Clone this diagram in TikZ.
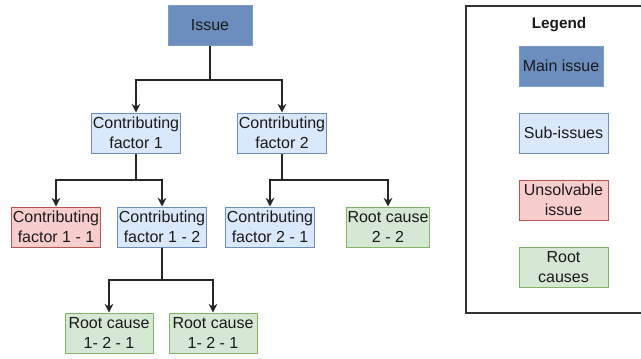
\documentclass[tikz,border=0pt]{standalone}
\usepackage{fontspec}
\setmainfont{Liberation Sans}
\usepackage{tikz}
\usetikzlibrary{arrows.meta, positioning}
\definecolor{rcMainFill}{HTML}{6C8EBF}
\definecolor{rcMainLine}{HTML}{7C9CCB}
\definecolor{rcSubFill}{HTML}{DAE8FC}
\definecolor{rcSubLine}{HTML}{6C8EBF}
\definecolor{rcBadFill}{HTML}{F8CECC}
\definecolor{rcBadLine}{HTML}{B85450}
\definecolor{rcRootFill}{HTML}{D5E8D4}
\definecolor{rcRootLine}{HTML}{82B366}
\definecolor{rcText}{HTML}{1A1A1A}

\begin{document}
\begin{tikzpicture}[
  x=0.75pt, y=-0.75pt,
  box/.style={draw=#1Line, fill=#1Fill, line width=0.75pt, minimum width=66pt,
              minimum height=30pt, align=center, inner sep=1pt, text=rcText,
              font=\fontsize{12}{15}\selectfont},
  link/.style={draw=black!85, line width=1pt, -{Stealth[length=6.5pt,width=6.5pt]}},
]
  \useasboundingbox (0,0) rectangle (641,358);

  % tree
  \node[box=rcMain, minimum width=63pt] (issue) at (210,25.5) {Issue};
  \node[box=rcSub] (cf1) at (136,133) {Contributing\\factor 1};
  \node[box=rcSub] (cf2) at (282,133) {Contributing\\factor 2};
  \node[box=rcBad] (cf11) at (56,227) {Contributing\\factor 1 - 1};
  \node[box=rcSub] (cf12) at (162,227) {Contributing\\factor 1 - 2};
  \node[box=rcSub] (cf21) at (270,227) {Contributing\\factor 2 - 1};
  \node[box=rcRoot, minimum width=62.5pt] (rc22) at (388,227) {Root cause\\2 - 2};
  \node[box=rcRoot] (rc121) at (109,333) {Root cause\\1- 2 - 1};
  \node[box=rcRoot] (rc122) at (213,333) {Root cause\\1- 2 - 1};

  \coordinate (j0) at (210,80);
  \coordinate (j1) at (136,180);
  \coordinate (j2) at (282,180);
  \coordinate (j3) at (162,280);

  \draw[link] (issue.south) -- (j0) -| (cf1.north);
  \draw[link] (j0) -| (cf2.north);
  \draw[link] (cf1.south) -- (j1) -| (cf11.north);
  \draw[link] (j1) -| (cf12.north);
  \draw[link] (cf2.south) -- (j2) -| (cf21.north);
  \draw[link] (j2) -| (rc22.north);
  \draw[link] (cf12.south) -- (j3) -| (rc121.north);
  \draw[link] (j3) -| (rc122.north);

  % legend
  \draw[black!80, line width=1pt] (466,6) rectangle (660,313);
  \node[font=\fontsize{11.5}{14}\selectfont\bfseries, text=rcText] (legtitle) at (559,25) {Legend};
  \node[box=rcMain, minimum width=63pt] (legmain) at (561,66) {Main issue};
  \node[box=rcSub, minimum width=66.75pt] (legsub) at (563.5,133) {Sub-issues};
  \node[box=rcBad, minimum width=66.75pt] (legbad) at (563.5,200) {Unsolvable\\issue};
  \node[box=rcRoot, minimum width=66.75pt] (legroot) at (563.5,267) {Root\\causes};
\end{tikzpicture}
\end{document}
